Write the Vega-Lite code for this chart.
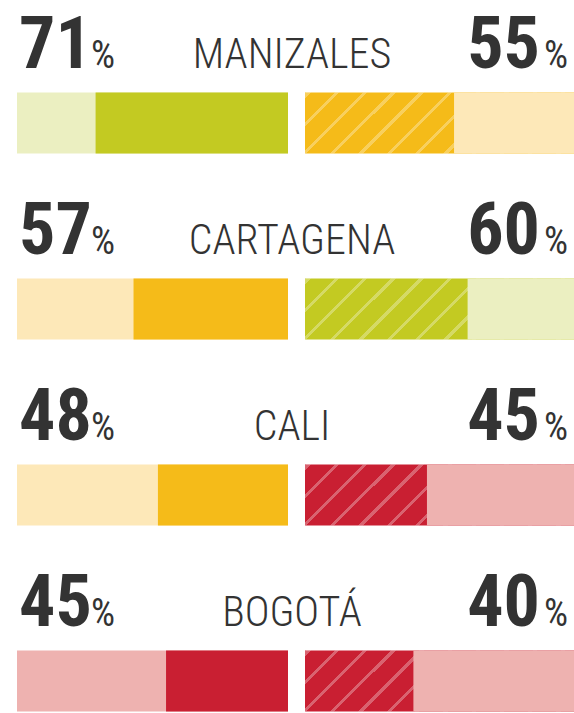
{
  "$schema": "https://vega.github.io/schema/vega-lite/v6.json",
  "width": 574,
  "height": 713,
  "padding": 0,
  "autosize": "none",
  "background": "#ffffff",
  "config": {"view": {"stroke": null}},
  "data": {
    "values": [
      {"ciudad": "MANIZALES", "serie": "izquierda", "valor": 71},
      {"ciudad": "MANIZALES", "serie": "derecha", "valor": 55},
      {"ciudad": "CARTAGENA", "serie": "izquierda", "valor": 57},
      {"ciudad": "CARTAGENA", "serie": "derecha", "valor": 60},
      {"ciudad": "CALI", "serie": "izquierda", "valor": 48},
      {"ciudad": "CALI", "serie": "derecha", "valor": 45},
      {"ciudad": "BOGOTÁ", "serie": "izquierda", "valor": 45},
      {"ciudad": "BOGOTÁ", "serie": "derecha", "valor": 40}
    ]
  },
  "encoding": {
    "y": {
      "field": "ciudad",
      "type": "nominal",
      "sort": ["MANIZALES", "CARTAGENA", "CALI", "BOGOTÁ"],
      "axis": null,
      "scale": {"type": "point", "padding": 0, "range": [123, 681]}
    }
  },
  "layer": [
    {
      "transform": [{"filter": "datum.serie === 'izquierda'"}],
      "layer": [
        {
          "mark": {"type": "bar", "height": 61},
          "encoding": {
            "x": {"datum": 0, "type": "quantitative", "axis": null, "scale": {"domain": [0, 100], "range": [288, 17]}},
            "x2": {"datum": 100},
            "fill": {"field": "valor", "type": "quantitative", "legend": null,
              "scale": {"type": "threshold", "domain": [46, 58], "range": ["#eeb2b0", "#fde8b8", "#ebefc1"]}}
          }
        },
        {
          "mark": {"type": "bar", "height": 61},
          "encoding": {
            "x": {"field": "valor", "type": "quantitative", "axis": null},
            "x2": {"datum": 0},
            "color": {"field": "valor", "type": "quantitative", "legend": null,
              "scale": {"type": "threshold", "domain": [46, 58], "range": ["#c91f32", "#f5bb19", "#c3ca22"]}}
          }
        },
        {
          "mark": {"type": "text", "align": "left", "baseline": "alphabetic", "dx": 2, "dy": -55.5, "fontSize": 72, "fontWeight": "bold", "font": "Roboto Condensed, Liberation Sans Narrow, sans-serif", "color": "#333333"},
          "encoding": {
            "x": {"datum": 100, "type": "quantitative", "axis": null},
            "text": {"field": "valor", "type": "quantitative"}
          }
        },
        {
          "mark": {"type": "text", "align": "left", "baseline": "alphabetic", "dx": 74, "dy": -55.5, "fontSize": 38, "fontWeight": "normal", "font": "Roboto Condensed, Liberation Sans Narrow, sans-serif", "color": "#333333", "text": "%"},
          "encoding": {
            "x": {"datum": 100, "type": "quantitative", "axis": null}
          }
        },
        {
          "mark": {"type": "text", "align": "center", "baseline": "alphabetic", "dx": 4, "dy": -55.5, "fontSize": 42, "fontWeight": 300, "font": "Roboto Condensed, Liberation Sans Narrow, sans-serif", "color": "#333333"},
          "encoding": {
            "x": {"datum": 0, "type": "quantitative", "axis": null},
            "text": {"field": "ciudad", "type": "nominal"}
          }
        }
      ]
    },
    {
      "transform": [{"filter": "datum.serie === 'derecha'"}],
      "layer": [
        {
          "mark": {"type": "bar", "height": 61},
          "encoding": {
            "x": {"datum": 0, "type": "quantitative", "axis": null, "scale": {"domain": [0, 100], "range": [305, 576]}},
            "x2": {"datum": 100},
            "color": {"field": "valor", "type": "quantitative", "legend": null,
              "scale": {"type": "threshold", "domain": [46, 58], "range": ["#c91f32", "#f5bb19", "#c3ca22"]}}
          }
        },
        {
          "mark": {
            "type": "bar", "height": 61,
            "fill": {
              "gradient": "linear", "x1": 0, "y1": 0, "x2": 1.166, "y2": 0.2625,
              "stops": [
                {"offset": 0, "color": "rgba(255,255,255,0)"},
                {"offset": 0.004, "color": "rgba(255,255,255,0)"},
                {"offset": 0.004, "color": "rgba(255,255,255,0.3)"},
                {"offset": 0.017, "color": "rgba(255,255,255,0.3)"},
                {"offset": 0.017, "color": "rgba(255,255,255,0)"},
                {"offset": 0.0892, "color": "rgba(255,255,255,0)"},
                {"offset": 0.0892, "color": "rgba(255,255,255,0.3)"},
                {"offset": 0.1022, "color": "rgba(255,255,255,0.3)"},
                {"offset": 0.1022, "color": "rgba(255,255,255,0)"},
                {"offset": 0.1744, "color": "rgba(255,255,255,0)"},
                {"offset": 0.1744, "color": "rgba(255,255,255,0.3)"},
                {"offset": 0.1874, "color": "rgba(255,255,255,0.3)"},
                {"offset": 0.1874, "color": "rgba(255,255,255,0)"},
                {"offset": 0.2596, "color": "rgba(255,255,255,0)"},
                {"offset": 0.2596, "color": "rgba(255,255,255,0.3)"},
                {"offset": 0.2726, "color": "rgba(255,255,255,0.3)"},
                {"offset": 0.2726, "color": "rgba(255,255,255,0)"},
                {"offset": 0.3448, "color": "rgba(255,255,255,0)"},
                {"offset": 0.3448, "color": "rgba(255,255,255,0.3)"},
                {"offset": 0.3578, "color": "rgba(255,255,255,0.3)"},
                {"offset": 0.3578, "color": "rgba(255,255,255,0)"},
                {"offset": 0.43, "color": "rgba(255,255,255,0)"},
                {"offset": 0.43, "color": "rgba(255,255,255,0.3)"},
                {"offset": 0.443, "color": "rgba(255,255,255,0.3)"},
                {"offset": 0.443, "color": "rgba(255,255,255,0)"},
                {"offset": 0.5152, "color": "rgba(255,255,255,0)"},
                {"offset": 0.5152, "color": "rgba(255,255,255,0.3)"},
                {"offset": 0.5282, "color": "rgba(255,255,255,0.3)"},
                {"offset": 0.5282, "color": "rgba(255,255,255,0)"},
                {"offset": 0.6004, "color": "rgba(255,255,255,0)"},
                {"offset": 0.6004, "color": "rgba(255,255,255,0.3)"},
                {"offset": 0.6134, "color": "rgba(255,255,255,0.3)"},
                {"offset": 0.6134, "color": "rgba(255,255,255,0)"},
                {"offset": 0.6856, "color": "rgba(255,255,255,0)"},
                {"offset": 0.6856, "color": "rgba(255,255,255,0.3)"},
                {"offset": 0.6986, "color": "rgba(255,255,255,0.3)"},
                {"offset": 0.6986, "color": "rgba(255,255,255,0)"},
                {"offset": 0.7708, "color": "rgba(255,255,255,0)"},
                {"offset": 0.7708, "color": "rgba(255,255,255,0.3)"},
                {"offset": 0.7838, "color": "rgba(255,255,255,0.3)"},
                {"offset": 0.7838, "color": "rgba(255,255,255,0)"},
                {"offset": 0.856, "color": "rgba(255,255,255,0)"},
                {"offset": 0.856, "color": "rgba(255,255,255,0.3)"},
                {"offset": 0.869, "color": "rgba(255,255,255,0.3)"},
                {"offset": 0.869, "color": "rgba(255,255,255,0)"},
                {"offset": 0.9412, "color": "rgba(255,255,255,0)"},
                {"offset": 0.9412, "color": "rgba(255,255,255,0.3)"},
                {"offset": 0.9542, "color": "rgba(255,255,255,0.3)"},
                {"offset": 0.9542, "color": "rgba(255,255,255,0)"},
                {"offset": 1, "color": "rgba(255,255,255,0)"}
              ]
            }
          },
          "encoding": {
            "x": {"datum": 0, "type": "quantitative", "axis": null},
            "x2": {"datum": 100}
          }
        },
        {
          "mark": {"type": "bar", "height": 61},
          "encoding": {
            "x": {"field": "valor", "type": "quantitative", "axis": null},
            "x2": {"datum": 100},
            "fill": {"field": "valor", "type": "quantitative", "legend": null,
              "scale": {"type": "threshold", "domain": [46, 58], "range": ["#eeb2b0", "#fde8b8", "#ebefc1"]}}
          }
        },
        {
          "mark": {"type": "text", "align": "right", "baseline": "alphabetic", "dx": -36, "dy": -55.5, "fontSize": 72, "fontWeight": "bold", "font": "Roboto Condensed, Liberation Sans Narrow, sans-serif", "color": "#333333"},
          "encoding": {
            "x": {"datum": 100, "type": "quantitative", "axis": null},
            "text": {"field": "valor", "type": "quantitative"}
          }
        },
        {
          "mark": {"type": "text", "align": "right", "baseline": "alphabetic", "dx": -8, "dy": -55.5, "fontSize": 38, "fontWeight": "normal", "font": "Roboto Condensed, Liberation Sans Narrow, sans-serif", "color": "#333333", "text": "%"},
          "encoding": {
            "x": {"datum": 100, "type": "quantitative", "axis": null}
          }
        }
      ]
    }
  ],
  "resolve": {"scale": {"x": "independent"}}
}
